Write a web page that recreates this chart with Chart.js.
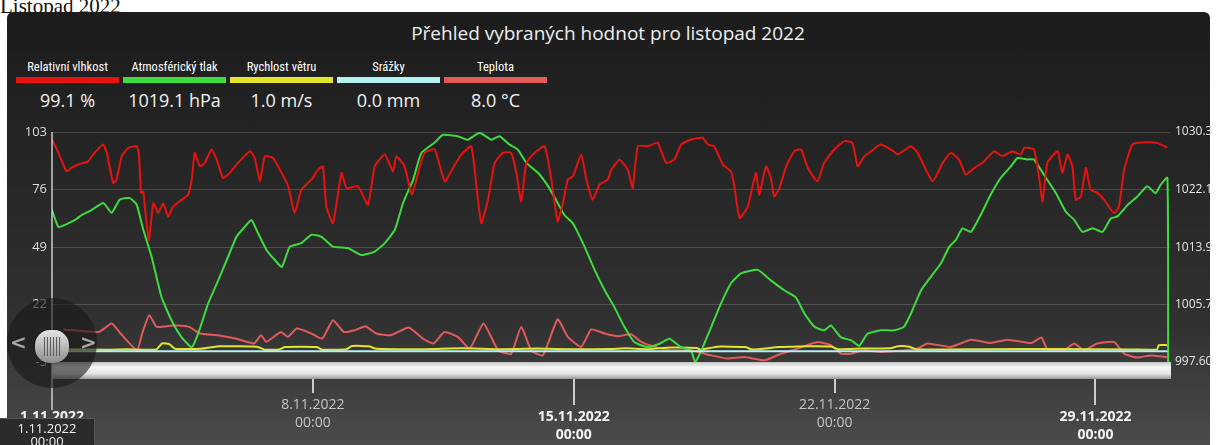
<!DOCTYPE html>
<html lang="cs">
<head>
<meta charset="utf-8">
<title>Listopad 2022</title>
<script src="https://cdn.jsdelivr.net/npm/chart.js@4.4.1/dist/chart.umd.min.js"></script>
<style>
  html, body { margin:0; padding:0; background:#fff; }
  body { width:1216px; height:445px; overflow:hidden; position:relative; font-family:'Open Sans', sans-serif; }
  .nadpis { position:absolute; left:0; top:-6px; font-family:'Liberation Serif', serif; font-size:21px; line-height:24px; color:#111; white-space:nowrap; }
  .panel { position:absolute; left:7px; top:12px; width:1203px; height:440px; border-radius:6px 6px 0 0;
           background:linear-gradient(#1c1c1c 0%, #242424 30%, #323232 72%, #4d4d4d 100%); }
  #graf { position:absolute; left:0; top:0; }
  .titulek { position:absolute; left:0; width:1216px; top:21px; text-align:center; color:#eee; font-size:19px; line-height:24px; }
  .legenda { position:absolute; left:16px; top:60px; display:flex; gap:4px; }
  .leg-item { width:103px; text-align:center; }
  .leg-nazev { font-family:'Liberation Sans Narrow', 'Roboto Condensed', Roboto, sans-serif; font-size:12.5px; color:#fff; height:14px; line-height:14px; white-space:nowrap; }
  .leg-pruh { height:6px; margin-top:3px; }
  .leg-hodnota { font-size:18px; color:#f2f2f2; margin-top:6px; line-height:22px; white-space:nowrap; }
  .kolo { position:absolute; left:7px; top:298px; width:90px; height:90px; border-radius:50%; background:rgba(24,24,24,0.6); }
  .sipka { position:absolute; top:330px; font:bold 20px 'DejaVu Sans', sans-serif; color:#a9a9a9; }
  .palec { position:absolute; left:35px; top:330px; width:34px; height:33px; border-radius:15px;
           background:linear-gradient(#e4e4e4, #b5b5b5 55%, #8f8f8f); box-shadow:0 0 2px rgba(0,0,0,.6); }
  .palec::after { content:''; position:absolute; left:9px; top:7px; width:16px; height:19px;
           background:repeating-linear-gradient(90deg, #5c5c5c 0 1px, transparent 1px 3px); }
  .popis { position:absolute; left:0; top:418px; width:95px; height:30px; background:#2b2b2b; border:1px solid #555; border-left:none;
           color:#eee; font-size:13px; line-height:13px; text-align:center; padding-top:3px; box-sizing:border-box; }
</style>
</head>
<body>
<div class="nadpis">Listopad 2022</div>
<div class="panel"></div>
<div class="titulek">Přehled vybraných hodnot pro listopad 2022</div>
<div class="legenda" id="legenda"></div>
<canvas id="graf" width="1216" height="445"></canvas>
<div class="kolo"></div>
<div class="sipka" style="left:10px">&lt;</div>
<div class="sipka" style="left:80px">&gt;</div>
<div class="palec"></div>
<div class="popis">1.11.2022<br>00:00</div>

<script>
// Přehled hodnot za listopad 2022 — osa X ve dnech od 1.11. 00:00

const nazvyRad   = ['Relativní vlhkost', 'Atmosférický tlak', 'Rychlost větru', 'Srážky', 'Teplota'];
const barvyRad   = ['#e8120f', '#3fdc3f', '#e4e42c', '#b4f2f2', '#e25a5a'];
const aktualni   = ['99.1 %', '1019.1 hPa', '1.0 m/s', '0.0 mm', '8.0 °C'];

const levaOsaTicks    = [-5, 22, 49, 76, 103];
const pravaOsaTicks   = [997.6, 1005.7, 1013.9, 1022.1, 1030.3];
const pravaOsaPopisky = ['997.60', '1005.7', '1013.9', '1022.1', '1030.3'];
const osaXDny         = [0, 7, 14, 21, 28];
const osaXPopisky     = ['1.11.2022', '8.11.2022', '15.11.2022', '22.11.2022', '29.11.2022'];

const vlhkostDny = [0.00,0.17,0.39,0.53,0.70,0.97,1.10,1.37,1.47,1.64,1.73,1.87,2.05,2.27,2.33,2.39,2.45,2.49,2.60,2.72,
  2.85,2.98,3.12,3.25,3.48,3.65,3.75,3.83,3.97,4.10,4.28,4.42,4.59,4.77,4.99,5.31,5.44,5.58,5.71,5.93,
  6.16,6.34,6.51,6.69,6.96,7.14,7.27,7.36,7.54,7.77,7.90,8.21,8.48,8.66,8.93,9.15,9.24,9.46,9.66,9.87,
  10.00,10.27,10.54,10.76,10.98,11.25,11.39,11.52,11.70,11.88,12.10,12.32,12.46,12.59,12.73,12.95,13.22,13.40,13.57,13.71,
  13.84,13.98,14.20,14.34,14.51,14.69,14.91,15.01,15.23,15.45,15.58,15.72,15.99,16.25,16.48,16.70,16.88,17.15,17.46,17.60,
  17.77,18.00,18.22,18.31,18.45,18.67,18.89,18.98,19.16,19.29,19.38,19.52,19.70,19.92,20.10,20.28,20.54,20.72,20.99,21.26,
  21.48,21.62,21.80,21.98,22.24,22.58,22.69,23.05,23.23,23.63,23.90,24.12,24.34,24.52,24.75,25.01,25.28,25.50,25.77,26.00,
  26.09,26.35,26.49,26.58,26.71,26.98,27.11,27.25,27.38,27.47,27.61,27.74,27.87,28.05,28.23,28.50,28.63,28.77,28.99,29.30,
  29.65,29.93];
const vlhkostHodnoty = [99.5,93.3,84.5,86.3,87.7,89.2,92.4,97.1,93.2,79.1,80.6,91.6,95.6,96.3,93.3,74.4,75.1,68.0,52.3,69.6,
  64.9,69.6,63.3,68.0,71.2,73.5,80.6,93.2,86.9,88.5,94.8,90.0,81.4,83.8,88.5,94.0,90.8,79.8,91.6,90.8,
  83.8,77.5,64.9,75.9,80.6,85.3,86.9,68.0,60.2,83.8,76.7,77.5,68.8,86.9,92.4,84.5,91.6,86.9,73.5,86.9,
  93.2,94.8,79.8,86.1,92.4,96.3,77.5,60.2,71.2,88.5,93.2,93.2,83.8,70.4,88.5,93.2,96.3,80.6,61.0,69.6,
  80.6,82.2,92.4,80.6,71.2,78.3,80.6,85.3,90.0,85.3,76.7,96.3,96.3,97.9,88.5,90.0,97.1,99.5,100.3,97.1,
  96.3,87.7,84.5,77.5,62.6,68.0,83.8,73.5,86.9,81.4,72.7,76.7,86.9,94.0,94.8,86.1,79.8,88.5,94.8,98.7,
  97.9,86.9,91.6,94.0,97.1,94.0,92.4,96.3,93.2,79.8,88.5,93.2,90.0,83.0,86.1,89.2,94.0,91.6,94.0,92.4,
  95.6,94.8,81.4,70.4,88.5,94.0,83.8,92.4,86.9,71.2,72.7,86.1,75.9,74.4,71.2,64.9,68.0,85.3,97.1,98.2,
  97.9,95.6];

const tlakDny = [0.00,0.17,0.35,0.62,0.80,1.06,1.38,1.60,1.82,2.09,2.27,2.45,2.67,2.94,3.21,3.48,3.75,3.92,4.19,4.46,
  4.73,4.95,5.17,5.35,5.53,5.76,5.98,6.17,6.38,6.69,6.96,7.23,7.54,7.94,8.30,8.66,8.93,9.20,9.42,9.69,
  9.91,10.27,10.49,10.89,11.16,11.47,11.79,12.01,12.28,12.50,12.73,13.04,13.31,13.57,13.75,13.98,14.29,14.56,14.83,15.09,
  15.36,15.63,15.99,16.30,16.57,16.88,17.15,17.26,17.42,17.69,17.95,18.22,18.49,18.94,19.29,19.65,19.96,20.19,20.46,20.72,
  20.90,21.17,21.44,21.66,21.88,22.24,22.60,22.86,23.05,23.32,23.58,23.85,24.08,24.26,24.43,24.66,24.92,25.19,25.46,25.73,
  25.91,26.17,26.35,26.62,26.94,27.20,27.43,27.65,27.92,28.19,28.41,28.59,28.86,29.12,29.39,29.61,29.75,29.93,29.95];
const tlakHodnoty = [1019.2,1016.8,1017.1,1017.8,1018.5,1019.2,1020.2,1018.8,1020.7,1020.9,1020.0,1016.4,1012.6,1006.8,1003.5,1001.1,999.7,1001.6,1005.9,1009.2,
  1012.6,1015.4,1016.8,1017.8,1015.9,1013.5,1012.1,1011.1,1014.0,1014.5,1015.7,1015.4,1014.0,1013.8,1012.8,1013.3,1014.5,1016.4,1020.2,1023.5,
  1027.3,1028.8,1029.9,1029.7,1029.2,1030.2,1029.2,1029.7,1028.5,1027.8,1025.9,1024.5,1022.6,1020.2,1018.5,1017.3,1014.0,1010.7,1007.8,1005.4,
  1002.6,1000.4,999.7,1000.2,1000.9,999.7,999.2,997.6,999.2,1002.6,1005.9,1008.8,1010.2,1010.7,1009.2,1007.8,1006.8,1004.5,1002.6,1002.1,
  1002.8,1001.1,1000.7,999.9,1001.6,1002.1,1002.1,1002.6,1004.5,1007.8,1009.7,1011.6,1014.0,1015.0,1016.6,1016.1,1018.5,1021.4,1023.8,1025.4,
  1026.6,1026.4,1026.4,1024.2,1021.6,1019.0,1017.8,1016.1,1016.6,1016.1,1018.0,1018.3,1019.9,1021.1,1022.6,1021.6,1022.8,1023.8,997.6];

const vitrDny = [0.30,1.50,2.00,2.80,2.95,3.15,3.30,4.00,4.50,5.50,5.70,6.10,6.25,7.10,7.25,7.90,8.05,8.50,8.70,10.00,
  11.00,12.00,13.00,14.00,15.00,15.40,16.00,16.60,17.30,17.40,17.85,18.60,18.80,19.50,19.90,20.20,20.90,21.10,21.70,22.50,
  22.70,23.00,23.20,25.00,27.00,29.00,29.65,29.70,29.93];
const vitrHodnoty = [1.0,0.8,1.0,0.9,3.7,3.4,1.2,1.2,2.4,2.2,0.8,0.9,2.0,2.0,0.8,1.0,2.5,2.4,1.2,1.0,
  1.4,1.0,1.3,1.0,1.1,1.4,1.0,1.8,1.6,0.8,2.2,2.0,0.9,2.0,2.2,2.4,2.3,1.0,1.3,1.5,
  2.4,2.2,0.9,1.0,1.1,0.9,0.9,2.9,2.9];

const srazkyDny = [0.00, 29.93];
const srazkyHodnoty = [0.0, 0.0];

const teplotaDny = [0.30,1.26,1.60,1.84,2.28,2.42,2.61,2.81,3.29,3.68,3.97,4.45,4.93,5.42,5.61,5.75,6.14,6.33,6.57,6.96,
  7.25,7.54,7.83,8.12,8.41,8.70,9.09,9.57,9.95,10.24,10.53,10.89,11.21,11.58,11.97,12.32,12.59,12.86,13.17,13.57,
  13.84,14.20,14.47,14.83,15.18,15.54,15.81,16.17,16.61,17.15,17.69,18.13,18.58,19.12,19.56,20.01,20.54,20.90,21.17,21.44,
  21.80,22.24,22.87,23.23,23.49,24.12,24.66,25.19,25.64,26.27,26.55,26.71,27.16,27.43,27.69,28.05,28.50,28.77,29.12,29.48,
  29.93];
const teplotaHodnoty = [10.3,9.1,13.1,8.4,0.5,8.4,17.0,11.5,12.3,11.5,8.4,7.6,6.0,3.7,7.6,4.4,9.1,6.8,10.7,8.4,
  6.0,14.6,9.1,9.9,11.8,8.4,7.6,11.2,6.0,3.7,9.1,6.8,1.3,13.1,0.5,-1.1,11.5,0.5,-1.9,15.0,
  6.8,2.1,10.3,8.4,7.1,8.0,4.4,2.1,0.5,0.5,-1.9,-3.4,-2.7,-4.2,-1.1,1.3,4.4,2.9,-1.1,-1.1,
  0.5,-0.3,0.5,1.3,3.7,2.1,5.5,3.9,5.5,3.9,6.5,0.9,0.5,3.7,0.5,3.7,4.4,-1.1,-2.9,-1.9,
  -2.7];

function body(dny, hodnoty) {
  return dny.map((d, i) => ({ x: d, y: hodnoty[i] }));
}

function renderLegenda() {
  document.getElementById('legenda').innerHTML = nazvyRad.map((n, i) => `
    <div class="leg-item">
      <div class="leg-nazev">${n}</div>
      <div class="leg-pruh" style="background:${barvyRad[i]}"></div>
      <div class="leg-hodnota">${aktualni[i]}</div>
    </div>`).join('');
}

// popisky se střídají ve dvou řadách (řádky po 6 px)
function popisekX(i) {
  return i % 2 === 0 ? ['', '', osaXPopisky[i], '', '', '00:00'] : [osaXPopisky[i], '', '', '00:00'];
}

// posuvník pod grafem, svislá osa a značky u dat
const doplnky = {
  id: 'doplnky',
  afterDraw(chart) {
    const { ctx, chartArea: a, scales } = chart;
    const barTop = a.bottom, barH = 17;
    ctx.save();
    const g = ctx.createLinearGradient(0, barTop, 0, barTop + barH);
    g.addColorStop(0, '#c4c4c4');
    g.addColorStop(0.3, '#f7f7f7');
    g.addColorStop(0.7, '#e2e2e2');
    g.addColorStop(1, '#9a9a9a');
    ctx.fillStyle = g;
    ctx.fillRect(a.left, barTop, a.right - a.left + 1, barH);

    ctx.strokeStyle = 'rgba(230,230,230,.85)';
    ctx.lineWidth = 1.5;
    ctx.beginPath(); ctx.moveTo(a.left, a.top); ctx.lineTo(a.left, 410); ctx.stroke();

    ctx.strokeStyle = '#cdcdcd';
    ctx.lineWidth = 2;
    scales.x.ticks.forEach((t, i) => {
      if (i === 0) return;
      const x = Math.round(scales.x.getPixelForValue(t.value));
      ctx.beginPath(); ctx.moveTo(x, barTop + barH); ctx.lineTo(x, i % 2 ? 393 : 405); ctx.stroke();
    });
    ctx.restore();
  }
};

function renderGraf() {
  Chart.defaults.font.family = "'Open Sans', sans-serif";
  const linie = (i, dny, hodnoty, osa) => ({
    label: nazvyRad[i], data: body(dny, hodnoty), yAxisID: osa,
    borderColor: barvyRad[i], backgroundColor: 'transparent', borderWidth: 2, tension: 0.15, pointRadius: 0
  });

  new Chart(document.getElementById('graf'), {
    type: 'line',
    data: {
      datasets: [
        linie(3, srazkyDny, srazkyHodnoty, 'y'),
        linie(0, vlhkostDny, vlhkostHodnoty, 'y'),
        linie(1, tlakDny, tlakHodnoty, 'y1'),
        linie(2, vitrDny, vitrHodnoty, 'y'),
        linie(4, teplotaDny, teplotaHodnoty, 'y'),
      ]
    },
    options: {
      responsive: false, animation: false, devicePixelRatio: 1,
      layout: { autoPadding: false, padding: { top: 132, bottom: 0, left: 0, right: 0 } },
      plugins: { legend: { display: false }, tooltip: { enabled: false } },
      scales: {
        x: {
          type: 'linear', position: 'bottom', min: 0, max: 30,
          afterFit: s => { s.height = 83; s.paddingLeft = 0; s.paddingRight = 0; },
          afterBuildTicks: s => { s.ticks = osaXDny.map(v => ({ value: v })); },
          grid: { display: false }, border: { display: false },
          ticks: {
            padding: 32, autoSkip: false, maxRotation: 0,
            color: c => c.index % 2 === 0 ? '#f2f2f2' : '#c4c4c4',
            font: c => ({ size: 14, weight: c.index % 2 === 0 ? 'bold' : 'normal', lineHeight: '6px' }),
            callback: (v, i) => popisekX(i)
          }
        },
        y: {
          position: 'left', min: -5, max: 103,
          afterFit: s => { s.width = 52; },
          afterBuildTicks: s => { s.ticks = levaOsaTicks.map(v => ({ value: v })); },
          grid: { color: 'rgba(255,255,255,.16)', drawTicks: false },
          border: { display: false },
          ticks: { padding: 5, color: '#dcdcdc', font: { size: 13 } }
        },
        y1: {
          position: 'right', min: 997.6, max: 1030.3,
          afterFit: s => { s.width = 46; },
          afterBuildTicks: s => { s.ticks = pravaOsaTicks.map(v => ({ value: v })); },
          grid: { display: false, drawTicks: false },
          border: { display: false },
          ticks: { padding: 5, color: '#e4e4e4', font: { size: 12 }, callback: (v, i) => pravaOsaPopisky[i] }
        }
      }
    },
    plugins: [doplnky]
  });
}

document.addEventListener('DOMContentLoaded', () => {
  renderLegenda();
  renderGraf();
});
</script>
</body>
</html>
